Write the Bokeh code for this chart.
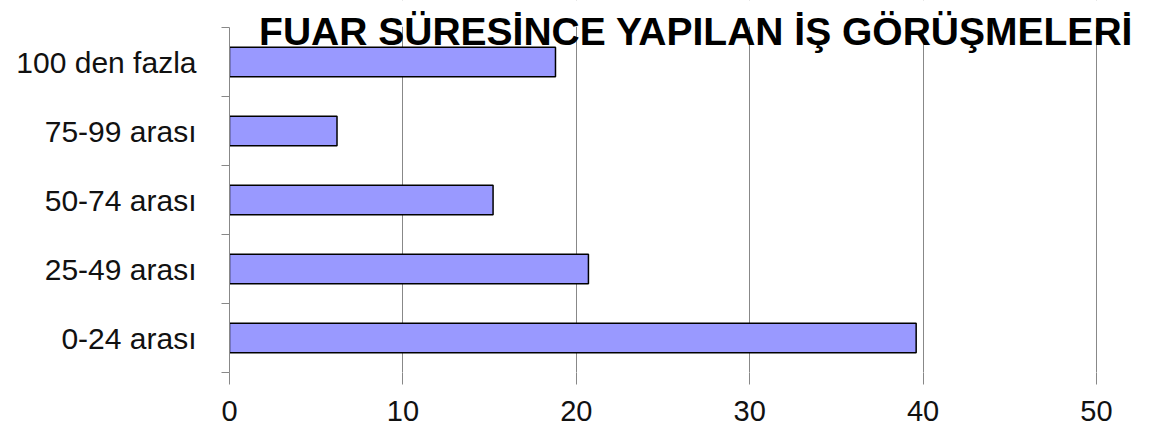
from bokeh.plotting import figure
from bokeh.models import Range1d, FixedTicker, Label
from bokeh.embed import file_html
from bokeh.resources import INLINE

categories = ["0-24 arası", "25-49 arası", "50-74 arası", "75-99 arası", "100 den fazla"]
values = [39.6, 20.7, 15.2, 6.2, 18.8]
x_ticks = [0, 10, 20, 30, 40, 50]
title_text = "FUAR SÜRESİNCE YAPILAN  İŞ GÖRÜŞMELERİ"

W, H = 1135, 436
LEFT, BOTTOM = 229, 64
PX_X = (1096 - LEFT) / 50.0          # pixels per x unit
PX_Y = (372 - 27) / len(categories)  # pixels per category
x_max = (W - LEFT) / PX_X
y_max = (H - BOTTOM) / PX_Y
n = len(categories)

p = figure(width=W, height=H, output_backend="svg", toolbar_location=None,
           x_range=Range1d(0, x_max), y_range=Range1d(0, y_max),
           min_border_left=LEFT, min_border_right=0, min_border_top=0, min_border_bottom=BOTTOM)
p.outline_line_color = None
p.background_fill_color = "white"

ypos = [i + 0.5 for i in range(n)]
p.hbar(y=ypos, right=values, left=0, height=0.43, fill_color="#9999FF",
       line_color="black", line_width=1.5)

# white mask above the category area so the grid stops where the reference does
p.quad(left=0, right=x_max, bottom=n + 0.01, top=y_max, fill_color="white", line_color=None)

# x axis
p.xaxis.ticker = FixedTicker(ticks=x_ticks)
p.xaxis.axis_line_color = None
p.xaxis.major_tick_line_color = "#888888"
p.xaxis.major_tick_out = 12
p.xaxis.major_tick_in = 0
p.xaxis.minor_tick_line_color = None
p.xaxis.major_label_text_font = "Liberation Sans"
p.xaxis.major_label_text_font_size = "29px"
p.xaxis.major_label_text_color = "#111111"
p.xaxis.major_label_standoff = 16

# y axis
p.yaxis.ticker = FixedTicker(ticks=ypos, minor_ticks=list(range(n + 1)))
p.yaxis.bounds = (0, n)
p.yaxis.major_label_overrides = {y: c for y, c in zip(ypos, categories)}
p.yaxis.axis_line_color = "#888888"
p.yaxis.major_tick_line_color = None
p.yaxis.major_tick_out = 0
p.yaxis.major_tick_in = 0
p.yaxis.minor_tick_line_color = "#888888"
p.yaxis.minor_tick_out = 8
p.yaxis.minor_tick_in = 0
p.yaxis.major_label_text_font = "Liberation Sans"
p.yaxis.major_label_text_font_size = "30px"
p.yaxis.major_label_text_color = "#111111"
p.yaxis.major_label_standoff = 25

p.xgrid.grid_line_color = "#888888"
p.xgrid.grid_line_width = 1
p.ygrid.grid_line_color = None

title = Label(x=(701 - LEFT) / PX_X, y=y_max - 31 / PX_Y, text=title_text,
              text_font="Liberation Sans", text_font_style="bold", text_font_size="39px",
              text_align="center", text_baseline="alphabetic", text_color="black")
p.add_layout(title)

open("out.html", "w").write(file_html(p, INLINE))
